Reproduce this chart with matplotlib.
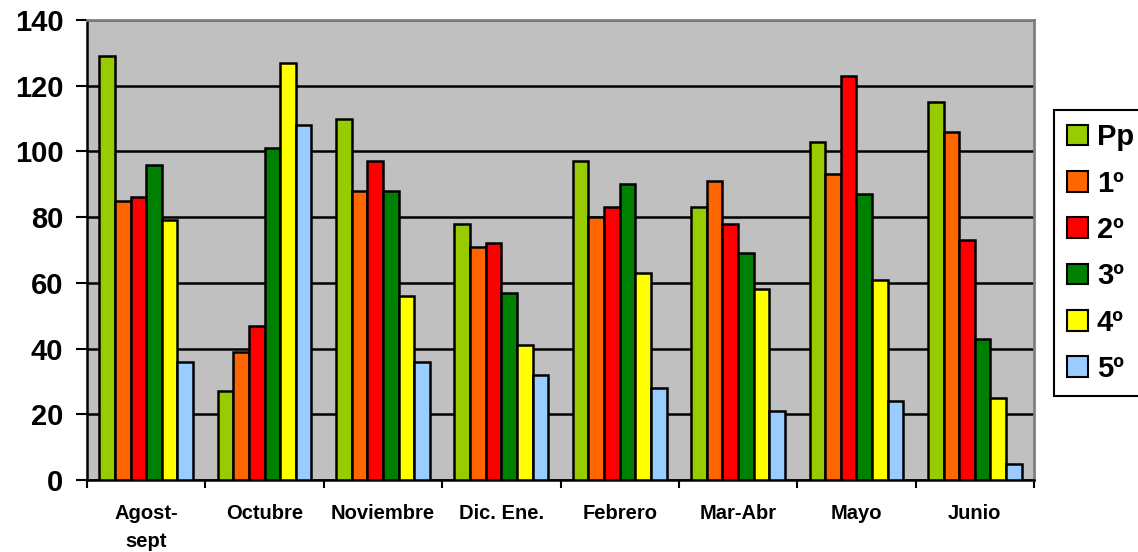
import matplotlib.pyplot as plt
import numpy as np

plt.rcParams["font.family"] = ["Liberation Sans", "DejaVu Sans"]
plt.rcParams["font.weight"] = "bold"

# Data
months = ["Agost-\nsept", "Octubre", "Noviembre", "Dic. Ene.", "Febrero",
          "Mar-Abr", "Mayo", "Junio"]
series_names = ["Pp", "1º", "2º", "3º", "4º", "5º"]
pp = [129, 27, 110, 78, 97, 83, 103, 115]
first = [85, 39, 88, 71, 80, 91, 93, 106]
second = [86, 47, 97, 72, 83, 78, 123, 73]
third = [96, 101, 88, 57, 90, 69, 87, 43]
fourth = [79, 127, 56, 41, 63, 58, 61, 25]
fifth = [36, 108, 36, 32, 28, 21, 24, 5]
colors = ["#99CC00", "#FF6600", "#FF0000", "#008000", "#FFFF00", "#99CCFF"]

series = [pp, first, second, third, fourth, fifth]

fig = plt.figure(figsize=(11.38, 5.52), dpi=100)
ax = fig.add_axes([87 / 1138, 1 - 480 / 552, (1034 - 87) / 1138, 460 / 552])
ax.set_facecolor("#C0C0C0")

x = np.arange(len(months))
w = 0.132
for i, (vals, name, col) in enumerate(zip(series, series_names, colors)):
    ax.bar(x + (i - 2.5) * w, vals, w, color=col, edgecolor="black",
           linewidth=1.8, label=name, zorder=3)

ax.set_ylim(0, 140)
ax.set_yticks(np.arange(0, 141, 20))
ax.set_xlim(-0.5, len(months) - 0.5)
ax.yaxis.grid(True, color="black", linewidth=1.8, zorder=1)
ax.set_axisbelow(True)

ax.set_xticks(x)
ax.set_xticklabels(months, fontsize=14.5, fontweight="bold", va="top",
                   linespacing=1.6)
ax.set_xticks(np.arange(-0.5, len(months), 1), minor=True)
ax.tick_params(axis="x", which="major", length=0, pad=17)
ax.tick_params(axis="x", which="minor", length=6, width=1.5)
ax.tick_params(axis="y", length=8, width=1.5, labelsize=21, pad=9)
for lab in ax.get_yticklabels():
    lab.set_fontweight("bold")

for side in ["top", "right"]:
    ax.spines[side].set_color("#808080")
    ax.spines[side].set_linewidth(2)
for side in ["left", "bottom"]:
    ax.spines[side].set_color("black")
    ax.spines[side].set_linewidth(1.8)

leg = ax.legend(loc="upper left", bbox_to_anchor=(1054 / 1138, 1 - 110 / 552),
                bbox_transform=fig.transFigure, prop={"size": 21, "weight": "bold"},
                frameon=True, fancybox=False, edgecolor="black", framealpha=1,
                handlelength=0.72, handleheight=0.72, handletextpad=0.3,
                labelspacing=0.63, borderpad=0.45, borderaxespad=0)
leg.get_frame().set_linewidth(1.5)
for h in leg.legend_handles:
    h.set_linewidth(1.5)

fig.savefig("out.png", dpi=100)
